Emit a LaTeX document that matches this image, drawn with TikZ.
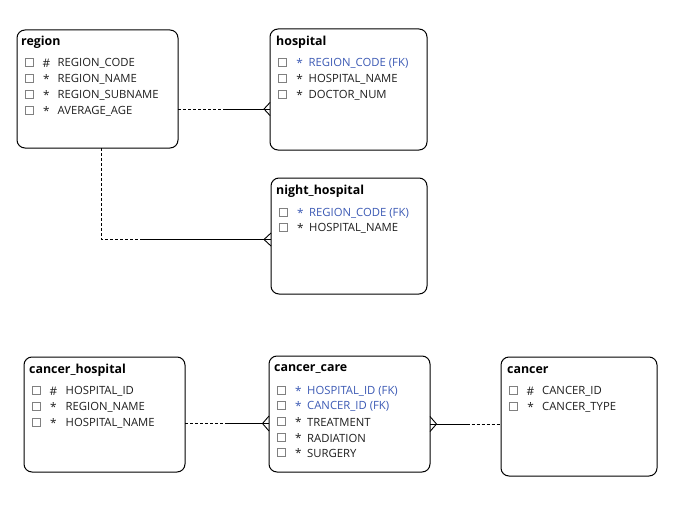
\documentclass[tikz,border=0pt]{standalone}
\usepackage{fontspec}
\setmainfont{Open Sans}
\definecolor{txt}{HTML}{1E1E1E}
\definecolor{fkblue}{HTML}{3C5AB4}
\definecolor{chkgray}{HTML}{808080}
\tikzset{
  entity/.style={draw, line width=1pt, rounded corners=8pt},
  etitle/.style={anchor=west, inner sep=0pt, font=\bfseries\fontsize{12.4}{14}\selectfont, text=black},
  attr/.style={anchor=west, inner sep=0pt, font=\fontsize{11.3}{13}\selectfont, text=txt},
  sym/.style={anchor=center, inner sep=0pt, font=\fontsize{11.8}{13}\selectfont, text=txt},
  fk/.style={text=fkblue},
  plain/.style={},
  chk/.style={draw=chkgray, line width=0.8pt, minimum size=8pt, inner sep=0pt},
  rel/.style={line width=0.9pt},
  dsh/.style={rel, dash pattern=on 3pt off 2pt},
}
% name, x0, y, text offset, symbol, text, style
\newcommand\erow[7]{%
  \node[chk] (#1c) at (#2+12,#3) {};
  \node[sym,#7] (#1s) at (#2+29.5,#3+0.8) {#5};
  \node[attr,#7] (#1t) at (#2+#4,#3+0.8) {#6};
}
\begin{document}
\begin{tikzpicture}[x=1pt,y=-1pt]
\useasboundingbox (0,0) rectangle (687,516);

% region
\draw[entity] (17,30) rectangle (178,148);
\node[etitle] (regionT) at (21,42) {region};
\erow{r1}{17}{62.3}{40.5}{\#}{REGION\_CODE}{plain}
\erow{r2}{17}{78.3}{40.5}{*}{REGION\_NAME}{plain}
\erow{r3}{17}{94.3}{40.5}{*}{REGION\_SUBNAME}{plain}
\erow{r4}{17}{110.3}{40.5}{*}{AVERAGE\_AGE}{plain}

% hospital
\draw[entity] (270,29) rectangle (427,150);
\node[etitle] (hospT) at (276,42) {hospital};
\erow{h1}{270}{62.5}{38.5}{*}{REGION\_CODE (FK)}{fk}
\erow{h2}{270}{78.3}{38.5}{*}{HOSPITAL\_NAME}{plain}
\erow{h3}{270}{94}{38.5}{*}{DOCTOR\_NUM}{plain}

% night_hospital
\draw[entity] (271,178) rectangle (427,294);
\node[etitle] (nightT) at (276,191) {night\_hospital};
\erow{n1}{271}{212.5}{38}{*}{REGION\_CODE (FK)}{fk}
\erow{n2}{271}{227.7}{38}{*}{HOSPITAL\_NAME}{plain}

% cancer_hospital
\draw[entity] (24,357) rectangle (185,472);
\node[etitle] (chT) at (29,370) {cancer\_hospital};
\erow{c1}{24}{390.7}{41.5}{\#}{HOSPITAL\_ID}{plain}
\erow{c2}{24}{406.5}{41.5}{*}{REGION\_NAME}{plain}
\erow{c3}{24}{422.3}{41.5}{*}{HOSPITAL\_NAME}{plain}

% cancer_care
\draw[entity] (269,356) rectangle (430,472);
\node[etitle] (ccT) at (274,369.5) {cancer\_care};
\erow{k1}{269}{390}{38}{*}{HOSPITAL\_ID (FK)}{fk}
\erow{k2}{269}{405.7}{38}{*}{CANCER\_ID (FK)}{fk}
\erow{k3}{269}{421.7}{38}{*}{TREATMENT}{plain}
\erow{k4}{269}{437.5}{38}{*}{RADIATION}{plain}
\erow{k5}{269}{452.5}{38}{*}{SURGERY}{plain}

% cancer
\draw[entity] (501,357) rectangle (657,476);
\node[etitle] (caT) at (507,370.5) {cancer};
\erow{a1}{501}{390.7}{41}{\#}{CANCER\_ID}{plain}
\erow{a2}{501}{406.5}{41}{*}{CANCER\_TYPE}{plain}

% region -> hospital
\coordinate (rh0) at (178,109);
\coordinate (rh1) at (225,109);
\coordinate (rh2) at (270,109);
\coordinate (rhf) at (264,109);
\draw[dsh] (rh0) -- (rh1);
\draw[rel] (rh1) -- (rh2);
\draw[rel] (270,102.5) -- (rhf) -- (270,115.5);

% region -> night_hospital
\coordinate (rn0) at (101.5,148);
\coordinate (rnc) at (101.5,239.5);
\coordinate (rn1) at (140,239.5);
\coordinate (rn2) at (271,239.5);
\coordinate (rnf) at (264,239.5);
\draw[dsh] (rn0) -- (rnc) -- (rn1);
\draw[rel] (rn1) -- (rn2);
\draw[rel] (271,233) -- (rnf) -- (271,246);

% cancer_hospital -> cancer_care
\coordinate (ck0) at (185,423.5);
\coordinate (ck1) at (226,423.5);
\coordinate (ck2) at (269,423.5);
\coordinate (ckf) at (262.5,423.5);
\draw[dsh] (ck0) -- (ck1);
\draw[rel] (ck1) -- (ck2);
\draw[rel] (269,416) -- (ckf) -- (269,431);

% cancer -> cancer_care
\coordinate (ka0) at (430,424);
\coordinate (kaf) at (436.5,424);
\coordinate (ka1) at (466.5,424);
\coordinate (ka2) at (501,424);
\draw[rel] (ka0) -- (ka1);
\draw[dsh] (ka1) -- (ka2);
\draw[rel] (430,416.5) -- (kaf) -- (430,431.5);
\end{tikzpicture}
\end{document}
